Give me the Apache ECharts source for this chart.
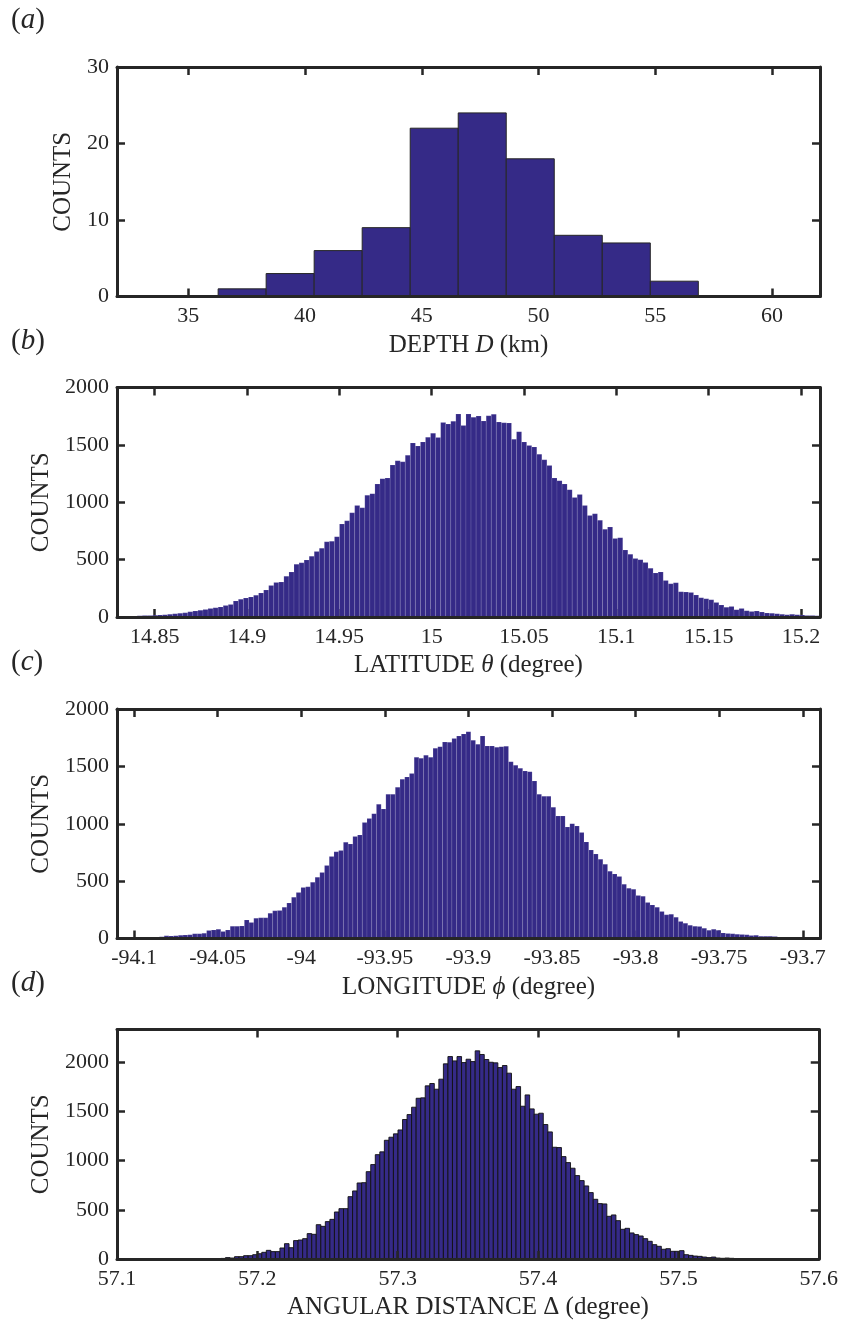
<!DOCTYPE html>
<html>
<head>
<meta charset="utf-8">
<script src="https://cdn.jsdelivr.net/npm/echarts@6/dist/echarts.min.js"></script>
<style>
  html, body { margin: 0; padding: 0; background: #fff; }
  #chart { width: 841px; height: 1327px; }
</style>
</head>
<body>
<div id="chart"></div>
<script>
  // (a) depth histogram, 10 bins
  const depthStart = 36.28;
  const depthWidth = 2.056;
  const depthCounts = [1, 3, 6, 9, 22, 24, 18, 8, 7, 2];
  const depthTicks = [35, 40, 45, 50, 55, 60];
  const depthCountTicks = [0, 10, 20, 30];

  // (b) latitude histogram
  const latStart = 14.8296;
  const latWidth = 0.0027388;
  const latCounts = [
    5, 5, 6, 8, 10, 12, 14, 15, 18, 20,
    24, 28, 32, 36, 45, 52, 58, 66, 74, 80,
    88, 100, 110, 140, 155, 165, 175, 190, 210, 235,
    275, 300, 305, 355, 392, 460, 472, 497, 530, 570,
    600, 655, 660, 700, 810, 838, 908, 971, 951, 1061,
    1075, 1159, 1205, 1211, 1324, 1361, 1352, 1410, 1517, 1491,
    1526, 1566, 1601, 1564, 1696, 1682, 1705, 1769, 1668, 1769,
    1740, 1751, 1708, 1754, 1766, 1699, 1693, 1691, 1549, 1615,
    1526, 1494, 1482, 1419, 1370, 1321, 1211, 1188, 1159, 1110,
    1041, 1067, 971, 884, 899, 844, 764, 784, 685, 691,
    584, 546, 509, 500, 474, 425, 384, 393, 318, 289,
    298, 220, 217, 214, 191, 168, 159, 150, 127, 104,
    84, 92, 64, 75, 55, 49, 52, 43, 35, 32,
    29, 23, 20, 23, 20, 17, 14, 12, 10
  ];
  const latTicks = [14.85, 14.9, 14.95, 15, 15.05, 15.1, 15.15, 15.2];

  // (c) longitude histogram
  const lonStart = -94.1102;
  const lonWidth = 0.0028215;
  const lonCounts = [
    5, 5, 6, 7, 8, 8, 10, 14, 14, 16,
    23, 22, 25, 29, 30, 32, 41, 41, 46, 70,
    75, 81, 61, 75, 107, 107, 110, 162, 139, 177,
    180, 180, 220, 241, 244, 273, 310, 360, 400, 444,
    450, 490, 534, 575, 636, 714, 755, 766, 839, 824,
    888, 903, 1010, 1045, 1088, 1169, 1129, 1257, 1257, 1318,
    1388, 1408, 1437, 1579, 1570, 1597, 1579, 1657, 1672, 1712,
    1710, 1742, 1765, 1783, 1802, 1727, 1692, 1765, 1678, 1678,
    1666, 1672, 1675, 1541, 1510, 1483, 1460, 1454, 1373, 1257,
    1240, 1240, 1144, 1068, 1068, 972, 1001, 981, 923, 842,
    772, 737, 691, 647, 586, 563, 540, 473, 438, 430,
    374, 368, 313, 293, 273, 235, 206, 212, 186, 148,
    133, 116, 107, 104, 90, 72, 81, 72, 49, 43,
    41, 38, 35, 32, 26, 29, 20, 20, 20, 17,
    14, 12, 12, 10, 9, 8, 8, 7, 6
  ];
  const lonTicks = [-94.1, -94.05, -94, -93.95, -93.9, -93.85, -93.8, -93.75, -93.7];

  // (d) angular distance histogram
  const distStart = 57.1611;
  const distWidth = 0.003235;
  const distCounts = [
    1, 2, 3, 4, 6,
    14, 10, 24, 24, 34, 34, 44, 54, 68, 88, 75, 75, 112, 156, 115, 187, 193, 207, 258, 251,
    349, 332, 380, 403, 478, 512, 512, 634,
    692, 773, 776, 888, 960, 1061, 1089, 1207, 1238, 1272, 1312, 1418, 1468, 1543, 1634,
    1638, 1760, 1784, 1726, 1828, 1984, 2058, 2014, 2058, 1997, 2031, 2007, 2116, 2079,
    2028, 2000, 1994, 1946, 1967, 1889, 1726, 1753, 1553, 1668, 1526, 1472, 1482, 1367,
    1292, 1136, 1133, 1041, 980, 923, 848, 797, 743,
    675, 607, 563, 560, 434, 448, 390, 302, 312, 265, 248, 234, 207, 180, 146, 129, 99,
    105, 78, 78, 85, 44, 37, 30, 27, 20, 14, 20, 10, 7, 10, 7, 3, 2, 1
  ];
  const distTicks = [57.1, 57.2, 57.3, 57.4, 57.5, 57.6];

  const bigCountTicks = [0, 500, 1000, 1500, 2000];

  const FONT = '"Liberation Serif", "DejaVu Serif", serif';
  const INK = '#262626';
  const BAR = '#352a87';

  function makeBins(start, width, counts) {
    return counts.map((c, i) => [start + i * width, start + (i + 1) * width, c]);
  }

  const panels = [
    { tag: 'a', top: 67, xMin: 31.95, xMax: 62.05, xTicks: depthTicks, yMax: 30, yTicks: depthCountTicks,
      name: 'DEPTH {i|D} (km)', bins: makeBins(depthStart, depthWidth, depthCounts),
      stroke: '#262626', lw: 1, ticksOver: false },
    { tag: 'b', top: 387.5, xMin: 14.8296, xMax: 15.2103, xTicks: latTicks, yMax: 2000, yTicks: bigCountTicks,
      name: 'LATITUDE {i|θ} (degree)', bins: makeBins(latStart, latWidth, latCounts),
      stroke: 'rgba(255,255,255,0.18)', lw: 0.6, ticksOver: false },
    { tag: 'c', top: 709, xMin: -94.1102, xMax: -93.6897, xTicks: lonTicks, yMax: 2000, yTicks: bigCountTicks,
      name: 'LONGITUDE {i|ϕ} (degree)', bins: makeBins(lonStart, lonWidth, lonCounts),
      stroke: 'rgba(255,255,255,0.18)', lw: 0.6, ticksOver: false },
    { tag: 'd', top: 1029.5, xMin: 57.1, xMax: 57.6, xTicks: distTicks, yMax: 2333, yTicks: bigCountTicks,
      name: 'ANGULAR DISTANCE Δ (degree)', bins: makeBins(distStart, distWidth, distCounts),
      stroke: '#111111', lw: 0.9, ticksOver: true }
  ];

  const fmt = v => String(Math.round(v * 100) / 100);
  const lineStyle = { color: INK, width: 3 };
  const tickStyle = { color: INK, width: 2.5 };

  const grid = [], xAxis = [], yAxis = [], series = [], graphic = [];

  panels.forEach((p, i) => {
    grid.push({ left: 117, width: 703, top: p.top, height: 229.5 });

    // bottom: labels and ticks
    xAxis.push({
      gridIndex: i, type: 'value', position: 'bottom', min: p.xMin, max: p.xMax,
      z: p.ticksOver ? 6 : 1,
      axisLine: { show: false },
      axisTick: { show: true, inside: true, length: 8, customValues: p.xTicks, lineStyle: tickStyle },
      axisLabel: { customValues: p.xTicks, formatter: fmt, margin: 9, fontSize: 22, fontFamily: FONT, color: INK },
      splitLine: { show: false },
      name: p.name, nameLocation: 'middle', nameGap: 36,
      nameTextStyle: {
        fontSize: 25, fontFamily: FONT, color: INK,
        rich: { i: { fontStyle: 'italic', fontSize: 25, fontFamily: FONT, color: INK } }
      }
    });
    // bottom line drawn above the bars
    xAxis.push({
      gridIndex: i, type: 'value', position: 'bottom', min: p.xMin, max: p.xMax, z: 6,
      axisLine: { show: true, lineStyle },
      axisTick: { show: false }, axisLabel: { show: false }, splitLine: { show: false }
    });
    // top frame
    xAxis.push({
      gridIndex: i, type: 'value', position: 'top', min: p.xMin, max: p.xMax, z: 6,
      axisLine: { show: true, lineStyle },
      axisTick: { show: true, inside: true, length: 8, customValues: p.xTicks, lineStyle: tickStyle },
      axisLabel: { show: false }, splitLine: { show: false }
    });

    yAxis.push({
      gridIndex: i, type: 'value', position: 'left', min: 0, max: p.yMax, z: 6,
      axisLine: { show: true, lineStyle },
      axisTick: { show: true, inside: true, length: 8, customValues: p.yTicks, lineStyle: tickStyle },
      axisLabel: { customValues: p.yTicks, formatter: v => String(v), margin: 8, fontSize: 22, fontFamily: FONT, color: INK },
      splitLine: { show: false },
      name: 'COUNTS', nameLocation: 'middle', nameGap: 40, nameRotate: 90,
      nameTextStyle: { fontSize: 25, fontFamily: FONT, color: INK }
    });
    yAxis.push({
      gridIndex: i, type: 'value', position: 'right', min: 0, max: p.yMax, z: 6,
      axisLine: { show: true, lineStyle },
      axisTick: { show: true, inside: true, length: 8, customValues: p.yTicks, lineStyle: tickStyle },
      axisLabel: { show: false }, splitLine: { show: false }
    });

    series.push({
      type: 'custom',
      xAxisIndex: i * 3,
      yAxisIndex: i * 2,
      z: 2,
      clip: true,
      encode: { x: [0, 1], y: 2 },
      data: p.bins,
      renderItem: (params, api) => {
        const a = api.coord([api.value(0), 0]);
        const b = api.coord([api.value(1), api.value(2)]);
        return {
          type: 'rect',
          shape: { x: a[0], y: b[1], width: b[0] - a[0], height: a[1] - b[1] },
          style: { fill: BAR, stroke: p.stroke, lineWidth: p.lw }
        };
      }
    });

    graphic.push({
      type: 'text', left: 11, top: p.top - 61,
      style: {
        text: '{n|(}{i|' + p.tag + '}{n|)}',
        rich: {
          n: { fontSize: 29, fontFamily: FONT, fill: INK },
          i: { fontSize: 29, fontFamily: FONT, fontStyle: 'italic', fill: INK }
        }
      }
    });
  });

  const chart = echarts.init(document.getElementById('chart'));
  chart.setOption({
    animation: false,
    backgroundColor: '#ffffff',
    grid, xAxis, yAxis, series, graphic
  });
</script>
</body>
</html>
